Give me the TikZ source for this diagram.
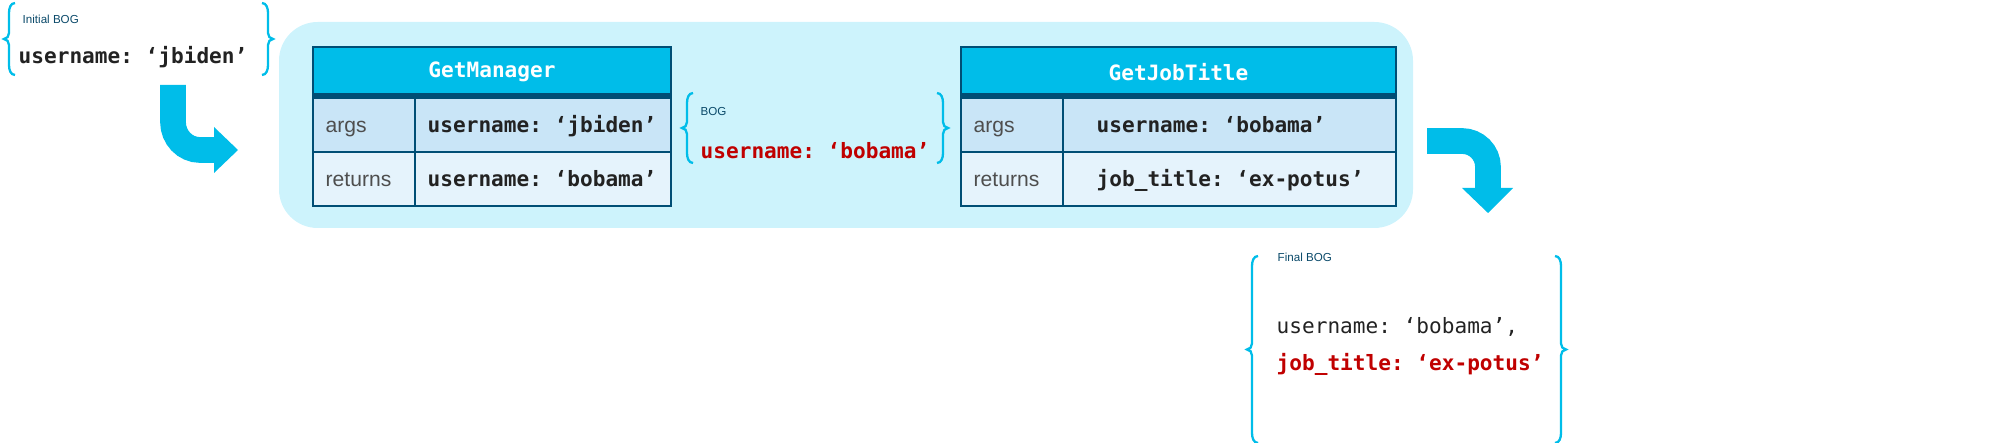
\documentclass[tikz,border=0pt]{standalone}
\usepackage{fontspec}
\setmainfont{Liberation Sans}
\setmonofont{DejaVu Sans Mono}
\usetikzlibrary{positioning}
\definecolor{cyanhead}{HTML}{00BDE9}
\definecolor{darkbar}{HTML}{004E75}
\definecolor{rowa}{HTML}{C9E5F7}
\definecolor{rowb}{HTML}{E5F3FC}
\definecolor{panel}{HTML}{CDF3FC}
\definecolor{bogred}{HTML}{C00000}
\definecolor{txt}{HTML}{222222}
\definecolor{lbl}{HTML}{0B4A6A}
\tikzset{
  code/.style={font=\ttfamily\bfseries\fontsize{6}{7}\selectfont, text=txt, inner sep=0pt, anchor=base west},
  plain/.style={font=\fontsize{6}{7}\selectfont, text=txt!80, inner sep=0pt, anchor=base west},
  small/.style={font=\fontsize{3.3}{4}\selectfont, text=lbl, inner sep=0pt, anchor=base west},
  head/.style={font=\ttfamily\bfseries\fontsize{6}{7}\selectfont, text=white, inner sep=0pt},
  brace/.style={draw=cyanhead, line width=0.65pt},
  bigarrow/.style={draw=cyanhead, line width=7.3pt},
  cell/.style={draw=darkbar, line width=0.35pt},
}
\newcommand{\bracepair}[4]{% x1 x2 ytop ybot
  \pgfmathsetmacro{\ymid}{(#3+#4)/2}
  \draw[brace] (#1+10,#3) to[out=180,in=90] (#1+4,#3+10) -- (#1+4,\ymid-6) to[out=-90,in=0] (#1-1,\ymid) to[out=0,in=90] (#1+4,\ymid+6) -- (#1+4,#4-10) to[out=-90,in=180] (#1+10,#4);
  \draw[brace] (#2-10,#3) to[out=0,in=90] (#2-4,#3+10) -- (#2-4,\ymid-6) to[out=-90,in=180] (#2+1,\ymid) to[out=180,in=90] (#2-4,\ymid+6) -- (#2-4,#4-10) to[out=-90,in=0] (#2-10,#4);
}
\newcommand{\optable}[4]{% x1 x2 name prefix
  \fill[cyanhead] (#1,47) rectangle (#2,93);
  \fill[darkbar] (#1,93) rectangle (#2,98);
  \filldraw[cell, fill=rowa] (#1,98) rectangle (#2,152);
  \filldraw[cell, fill=rowb] (#1,152) rectangle (#2,206);
  \draw[cell] (#1,47) rectangle (#2,206);
  \draw[cell] (#1+102,98) -- (#1+102,206);
  \node[head] (#4head) at ({(#1+#2)/2},72) {#3};
  \node[plain] (#4args) at (#1+12,133) {args};
  \node[plain] (#4ret) at (#1+12,187) {returns};
}
\begin{document}
\begin{tikzpicture}[x=0.01cm, y=-0.01cm]
\useasboundingbox (0,0) rectangle (1991,443);
% initial BOG
\bracepair{5}{272}{3}{75}
\node[small] (initlbl) at (22,24) {Initial BOG};
\node[code] (initval) at (18,64) {username: ‘jbiden’};
% arrow in
\coordinate (inA) at (173,85);
\coordinate (inB) at (215,150);
\draw[bigarrow] (inA) -- (173,122) to[out=-90,in=180] (200,150) -- (inB);
\fill[cyanhead] (214,127) -- (238,150) -- (214,173) -- cycle;
% panel
\fill[panel, rounded corners=11pt] (279,22) rectangle (1413,228);
% GetManager
\optable{313}{671}{GetManager}{m}
\node[code] (margs) at (427,133) {username: ‘jbiden’};
\node[code] (mret) at (427,187) {username: ‘bobama’};
% middle BOG
\bracepair{683}{947}{93}{163}
\node[small] (boglbl) at (700,116) {BOG};
\node[code, text=bogred] (bogval) at (700,159) {username: ‘bobama’};
% GetJobTitle
\optable{961}{1396}{GetJobTitle}{j}
\node[code] (jargs) at (1096,133) {username: ‘bobama’};
\node[code] (jret) at (1096,187) {job\_title: ‘ex-potus’};
% arrow out
\coordinate (outA) at (1427,141);
\coordinate (outB) at (1488,190);
\draw[bigarrow] (outA) -- (1462,141) to[out=0,in=90] (1488,167) -- (outB);
\fill[cyanhead] (1462,188) -- (1513,188) -- (1488,213) -- cycle;
% final BOG
\bracepair{1248}{1565}{256}{443}
\node[small] (finlbl) at (1277,262) {Final BOG};
\node[code, font=\ttfamily\fontsize{6}{7}\selectfont] (finval) at (1276,334) {username: ‘bobama’,};
\node[code, text=bogred] (finjob) at (1276,370) {job\_title: ‘ex-potus’};
\end{tikzpicture}
\end{document}
